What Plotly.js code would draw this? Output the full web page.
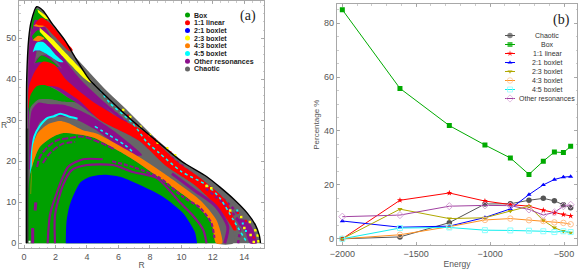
<!DOCTYPE html>
<html><head><meta charset="utf-8">
<script src="https://cdn.plot.ly/plotly-3.0.1.min.js"></script>
<style>html,body{margin:0;padding:0;background:#fff}</style></head>
<body><div id="chart" style="width:579px;height:270px"></div>
<script>
// ---- panel (a): orbit-class regions (R, z outlines) ----
const GREY='#666666',PURPLE='#8b0f8b',GREEN='#00a000',RED='#ff0000',BLUE='#0000ff',YELLOW='#ffff00',ORANGE='#ff8000',CYAN='#00ffff';

const envelope=[[0.15,0],[0.15,25],[0.17,40],[0.3,50],[0.45,54],[0.8,57.7],[1.2,56.8],[1.8,53.5],[2.6,49.5],[3.3,45],[4.15,40],[5.5,34.8],[6.85,30],[8.1,26],[10,20],[11.6,16.3],[12.45,13.7],[13.4,10.5],[14.2,7.3],[14.7,4.5],[14.95,2],[15.03,0]];
const topPurple=[[0.25,27],[0.3,46],[0.5,53],[0.8,55],[1.3,53],[2,48.5],[3,42.5],[4.2,37],[5.5,32],[7,27],[8,24],[7.5,22],[6,27],[4.5,31],[3,35],[1.8,38],[1,38],[0.5,33]];
const outerPurple=[[13.4,6],[14.2,5.5],[14.6,3],[14.8,0],[14.35,0],[14.1,2.5]];
const topGreen=[[0.45,53],[0.8,57.2],[1.15,56.2],[1.5,54.5],[1.1,54],[0.7,54.6],[0.55,52]];
const topGreen2=[[0.5,50.5],[0.9,52],[1.3,50.5],[1.6,49.5],[1,50],[0.6,49.6]];
const topGreen3=[[0.7,44],[1.1,45.8],[1.6,45],[2.2,43],[1.6,43.8],[1,44.2]];
const topRed=[[0.7,53.6],[1.1,55],[1.65,53.7],[2.4,50.2],[3.1,47.1],[2.9,46.8],[1.9,50.6],[1.3,53],[0.9,53.2]];
const topOrange=[[0.55,49.5],[0.9,50.6],[1.3,50],[0.9,49.2]];
const topOrange2=[[0.6,53],[1,54],[1.35,53],[1,52.7]];
const topCyan=[[0.55,46.6],[0.8,48.9],[1.2,49.1],[1.6,47.8],[2,46],[2.5,44.2],[2.2,44.3],[1.5,46],[1,47],[0.7,47]];
const yellowThick=[[1,52.6],[1.85,49.7],[2.5,47],[3.25,44],[4,41],[4.3,39.4],[4.2,39.2],[3.9,40],[3.2,42.6],[2.45,45.6],[1.8,48.3],[1,51.6]];
const yellowTop=[[0.85,57],[1.35,55.6],[1.6,54.6],[1.35,54.8],[0.9,56.3]];
const redBand=[[0.27,33],[0.3,38],[0.7,42],[1.2,44.3],[1.9,43.6],[2.7,39.8],[4.2,35],[6.3,30],[7.8,26.9],[9.7,20],[11.2,15.9],[12.9,10],[13.5,3.2],[13.3,3.2],[12.25,9],[10.8,14.3],[8.96,19],[7.3,25],[4.83,30],[3.45,35],[2.08,38.2],[1,38],[0.3,33]];
const greenThin=[[0.3,33],[0.4,36],[0.8,38.3],[1.3,38.6],[2,37.5],[2.8,35.5],[3.3,34.3],[2.5,34.5],[1.5,35.2],[0.9,35],[0.5,32.5],[0.35,29]];
const purpleArch=[[0.3,18],[0.35,28],[0.5,32.5],[0.9,34.3],[1.5,34],[2.5,33.8],[3.5,32.5],[4.5,30.5],[5.5,28],[6.5,25],[7.5,21.5],[6.8,21.5],[5.5,25],[4.5,27.8],[3.3,30.2],[2.6,30.8],[1.6,30.8],[1,29.5],[0.6,25],[0.4,18]];
const midGrey=[[0.3,24],[0.4,33],[0.9,35],[1.5,35.2],[2.5,34.5],[3.3,34.3],[4.8,30],[7.3,25],[8.96,19],[10.8,14.3],[12.25,9],[13.3,3.2],[13.3,0],[12.2,0],[10,10],[7,20],[4,28],[2,31],[0.7,26]];
const lowerCyan=[[0.45,17],[0.5,22],[0.65,26],[1,28.6],[1.5,30.6],[1.9,31],[2.3,31.6],[2.8,31],[3.4,30.4]];
const lowerCyan2=[[4.5,28.5],[5.4,26.4],[6.4,24],[7,22]];
const lowerCyan3=[[8.6,17.5],[9.7,14],[10.5,12.2]];
const upperCyanLine=[[4.83,37.4],[5.46,34.2],[6.9,29.3],[7.8,24.7],[8.6,22],[10,17.5],[11.6,14.2],[12.45,11],[13.3,5.7],[14.2,0]];
const orangeArch=[[0.45,12],[0.5,20],[0.57,24],[0.9,27],[1.5,29],[2.3,29.8],[3,29],[3.75,27.6],[4.6,26.8],[6.9,22],[9.1,16.5],[11.2,10.5],[12.25,5.5],[12.6,0],[12.2,0],[11.9,5],[10.9,9.5],[8.9,15.2],[6.7,21],[4.4,25.8],[3.4,26.6],[2.5,26.9],[1.85,26],[1,23.5],[0.5,18.4],[0.42,12]];
const greenCore=[[0.27,0],[0.27,13],[0.45,18],[1,23.5],[1.85,26],[2.5,26.9],[3.4,26.6],[4.4,25.8],[6.7,21],[8.9,15.2],[10.9,9.5],[11.9,5],[12.2,0]];
const blueCore=[[2.65,0],[2.7,5.3],[2.9,9.3],[3.55,14.7],[4.2,16.2],[5.15,16.7],[6.1,16.2],[7.37,14.2],[8.85,11.3],[10.1,7.4],[10.85,2.8],[11,0]];
const stripeS1=[[1.5,0],[1.65,6.9],[2.1,12.5],[2.8,18.6],[3.75,20.5],[5,20.5]];
const stripeS2=[[1.97,0],[1.97,6.9],[2.48,14.2],[3.05,17.9],[4,19.1],[5.65,19.1],[6.9,17.4],[8.45,15.9],[9.9,10],[10.7,6.9],[11.4,3.2],[11.6,0]];
const stripeS1b=[[5.6,20],[7,18.5],[8.6,16],[10.1,11.3],[11.2,8.6],[11.9,5],[12.1,1.3]];
const stripeS3=[[0.83,18.6],[1,21],[1.5,23.5],[2.15,25.2],[2.9,25.7],[3.75,26],[5,24.3],[5.7,23]];
const stripeS4=[[1.2,19.6],[1.65,22],[2.4,24.2],[3.25,24.7]];
const stripeLeft=[[0.55,0],[0.55,3.7]];
const stripeLeft2=[[0.7,8],[0.75,10]];
const rightPurple=[[12.75,0],[12.95,4],[12.2,9],[10.8,13],[9.4,17]];
const rightPurple2=[[13.6,0],[13.7,5],[12.6,10],[11.5,13.5]];
const upperPurpleDiag=[[1.2,49],[1.9,47.5],[2.7,43.5],[3.6,39.4],[4.8,35],[6,31],[7.5,25.5]];
const outerDash=[[5.5,32.8],[7,28],[8.7,23],[10.5,17.5],[12,13],[13,9.6],[13.9,6]];
const yellowDots=[[6.3,32.5],[6.75,30.8],[7.4,28.4],[8,26.4],[8.5,24.5],[9.1,23.2],[9.6,21.5],[11.6,14],[11.9,13.4],[13.1,8],[13.8,6.4],[14.35,5.2],[14,3.7],[14.7,3.2],[14.85,1.9],[14.9,0.5],[14.4,2],[14.6,0.3]];
const redDots=[[6.6,31.2],[7.1,29],[8.3,25.4],[9.3,22.2],[10.9,16],[12,12.6],[13.6,7.4],[14.1,5.5],[14.6,1.4]];
const cyanDots=[[14.1,3],[13.9,4.8],[13.55,8]];
const whiteSpeck=[[0.35,0.4]];

const regionNames=['Box','1:1 linear','2:1 boxlet','2:3 boxlet','4:3 boxlet','4:5 boxlet','Other resonances','Chaotic'];
const regionColors=[GREEN,RED,BLUE,YELLOW,ORANGE,CYAN,PURPLE,GREY];

// ---- panel (b) series ----
const energy=[-2000,-1610,-1276,-1035,-863,-737,-640,-565,-504,-455];
const chaotic=[0,0.7,6,12.9,13,14.3,15,14.1,12.6,11.5];
const box=[85,55.8,42,34.8,30,23.9,28.8,32.2,32,34.3];
const linear11=[0,14.3,17,14,12.7,12.1,10.6,9.6,9,8.5];
const boxlet21=[6.6,4.3,4.7,7.9,11.1,16.4,20,22,22.9,23.1];
const boxlet23=[0,11,7.5,7.8,10.3,12.1,6.8,4.1,2.8,2.2];
const boxlet43=[0,1.5,4.5,7,7.5,6.9,6.6,6.1,5.9,5.4];
const boxlet45=[0,4,4.2,3.2,3.1,3,2.8,2.5,2.8,2.5];
const otherRes=[8.2,8.8,12.1,12.4,12.3,10.9,8.8,9.8,12.1,12.6];

const seriesNames=['Chaotic','Box','1:1 linear','2:1 boxlet','2:3 boxlet','4:3 boxlet','4:5 boxlet','Other resonances'];
const seriesValues=[chaotic,box,linear11,boxlet21,boxlet23,boxlet43,boxlet45,otherRes];
const seriesStyles=[
 {c:'#555555',mc:'#555555',lw:1,s:'circle',m:5.5},
 {c:'#00aa00',mc:'#00aa00',lw:1,s:'square',m:5},
 {c:'#ff0000',mc:'#ff0000',lw:1,s:'star',m:4.5},
 {c:'#0000ff',mc:'#0000ff',lw:1,s:'triangle-up',m:4.5},
 {c:'#b0a800',mc:'#b0a800',lw:1,s:'triangle-down',m:4.5},
 {c:'#ff9020',mc:'#ffbf8c',lw:1,s:'circle-open',m:5.5,light:1},
 {c:'#10eeee',mc:'#88ffff',lw:1,s:'square-open',m:5,light:1},
 {c:'#a040a0',mc:'#d8a8d8',lw:1,s:'diamond-open',m:5.5,light:1}];

const W=579,H=270;
const traces=[];
function poly(pts,c){traces.push({type:'scatter',mode:'lines',x:pts.map(p=>p[0]),y:pts.map(p=>p[1]),fill:'toself',fillcolor:c,line:{width:0,color:c,shape:'spline',smoothing:0.7},hoverinfo:'skip',xaxis:'x',yaxis:'y',showlegend:false});}
function stripe(pts,c,w,dash){traces.push({type:'scatter',mode:'lines',x:pts.map(p=>p[0]),y:pts.map(p=>p[1]),line:{width:w,color:c,dash:dash||'solid',shape:'spline',smoothing:0.7},hoverinfo:'skip',xaxis:'x',yaxis:'y',showlegend:false});}
function dots(pts,c,s){traces.push({type:'scatter',mode:'markers',x:pts.map(p=>p[0]),y:pts.map(p=>p[1]),marker:{symbol:'square',size:s,color:c,line:{width:0}},hoverinfo:'skip',xaxis:'x',yaxis:'y',showlegend:false});}

poly(envelope,GREY);
poly(topPurple,PURPLE);
stripe([[3.2,45],[5,37.5],[6.5,32],[8.2,25.5],[10.2,19],[12,13.5],[13.4,9]],GREY,4);
stripe(upperPurpleDiag,PURPLE,3);
stripe(outerDash,PURPLE,2.5,'3px,3px');
poly(outerPurple,PURPLE);
poly([[0.45,39],[0.8,45],[1.3,46],[2,44.6],[2.4,42.6],[1.2,46.7],[0.8,46.9]],GREY);
poly(topGreen,GREEN);poly(topGreen2,GREEN);poly(topOrange2,ORANGE);poly(topOrange,ORANGE);
poly(topRed,RED);poly(topCyan,CYAN);poly(yellowThick,YELLOW);poly(yellowTop,YELLOW);
poly(topGreen3,GREEN);
poly(redBand,RED);
poly(greenThin,GREEN);
poly(midGrey,GREY);
poly(purpleArch,PURPLE);
stripe(rightPurple,PURPLE,3);
stripe(rightPurple2,PURPLE,2.5,'3px,3px');
stripe(lowerCyan,CYAN,2);
stripe(lowerCyan2,CYAN,1.5,'3px,3px');
stripe(lowerCyan3,CYAN,1.5,'3px,3px');
stripe(upperCyanLine,CYAN,1.5,'3px,3px');
poly(greenCore,GREEN);
poly(blueCore,BLUE);
poly(orangeArch,ORANGE);
stripe(stripeS1,PURPLE,2.2);
stripe(stripeS2,PURPLE,2.2);
stripe(stripeS1b,PURPLE,2.2,'4px,2px');
stripe(stripeS3,PURPLE,2,'6px,2px');
stripe(stripeS4,PURPLE,2,'6px,2px');
stripe(stripeLeft,PURPLE,3);
stripe(stripeLeft2,PURPLE,3);
dots(yellowDots,YELLOW,2.5);
dots(redDots,RED,2);
dots(cyanDots,CYAN,2);
stripe([[0.2,0],[0.2,28]],'#333333',2.5);
dots(whiteSpeck,'#ffffff',2);
stripe(envelope,'#000000',1.4);

// panel (b) series
seriesNames.forEach((n,i)=>{const st=seriesStyles[i];
 traces.push({type:'scatter',mode:'lines+markers',name:n,x:energy,y:seriesValues[i],xaxis:'x2',yaxis:'y2',showlegend:false,
  line:{color:st.c,width:st.lw},marker:{symbol:st.s,size:st.m,color:st.mc,line:{color:st.mc,width:st.light?1:0}}});});

// legend keys live on a full-page helper axis, labels are annotations
const annotations=[];
const legA={x:187.5,y:15,dy:7.7,tx:194};
regionNames.forEach((n,i)=>{
 traces.push({type:'scatter',mode:'markers',x:[legA.x],y:[legA.y+i*legA.dy],xaxis:'x3',yaxis:'y3',showlegend:false,hoverinfo:'skip',marker:{symbol:'circle',size:5,color:regionColors[i]}});
 annotations.push({xref:'paper',yref:'paper',x:legA.tx/W,y:1-(legA.y+i*legA.dy)/H,text:n,showarrow:false,xanchor:'left',yanchor:'middle',font:{family:'Liberation Sans',size:7,color:'#222',weight:'bold'},borderpad:0,borderwidth:0});
});
const legB={x0:505,x1:515,y:35.5,dy:9,tx:547};
seriesNames.forEach((n,i)=>{const st=seriesStyles[i],yy=legB.y+i*legB.dy;
 traces.push({type:'scatter',mode:'lines+markers',x:[legB.x0,(legB.x0+legB.x1)/2,legB.x1],y:[yy,yy,yy],xaxis:'x3',yaxis:'y3',showlegend:false,hoverinfo:'skip',line:{color:st.c,width:st.lw},marker:{symbol:st.s,size:[0,st.m,0],color:st.mc,line:{color:st.mc,width:st.light?1:0}}});
 annotations.push({xref:'paper',yref:'paper',x:legB.tx/W,y:1-yy/H,text:n,showarrow:false,xanchor:'center',yanchor:'middle',font:{family:'Liberation Sans',size:7,color:'#333'},borderpad:0});
});
annotations.push({xref:'paper',yref:'paper',x:248/W,y:1-16/H,text:'(a)',showarrow:false,xanchor:'center',yanchor:'middle',font:{family:'Liberation Serif',size:14,color:'#222'}});
annotations.push({xref:'paper',yref:'paper',x:561.5/W,y:1-20/H,text:'(b)',showarrow:false,xanchor:'center',yanchor:'middle',font:{family:'Liberation Serif',size:14,color:'#222'}});
annotations.push({xref:'paper',yref:'paper',x:4/W,y:1-125/H,text:'R',showarrow:false,xanchor:'center',yanchor:'middle',font:{family:'Liberation Sans',size:8.5,color:'#555'}});

const frame={showgrid:false,zeroline:false,showline:true,linecolor:'#a8a8a8',linewidth:1.2,mirror:'ticks',ticks:'inside',ticklen:3,tickwidth:0.8,tickcolor:'#999',tickfont:{family:'Liberation Sans',size:9,color:'#555'},
 minor:{ticks:'inside',ticklen:1.5,tickwidth:0.6,tickcolor:'#aaa'}};
const titleFont={family:'Liberation Sans',size:8.5,color:'#555'};
const layout={width:W,height:H,margin:{l:0,r:0,t:0,b:0,pad:0},paper_bgcolor:'#fff',plot_bgcolor:'rgba(0,0,0,0)',showlegend:false,annotations,hovermode:false,
 xaxis:Object.assign({},frame,{domain:[19.3/W,264/W],range:[-0.3,15.25],tickmode:'array',tickvals:[0,2,4,6,8,10,12,14],minor:Object.assign({},frame.minor,{dtick:0.5}),anchor:'y',title:{text:'R',font:titleFont,standoff:3}}),
 yaxis:Object.assign({},frame,{domain:[1-248/H,1-1/H],range:[-1.15,59.1],tickmode:'array',tickvals:[0,10,20,30,40,50],minor:Object.assign({},frame.minor,{dtick:2}),anchor:'x'}),
 xaxis2:Object.assign({},frame,{domain:[337/W,577/W],range:[-2036,-412],tickmode:'array',tickvals:[-2000,-1500,-1000,-500],minor:Object.assign({},frame.minor,{dtick:100}),anchor:'y2',title:{text:'Energy',font:titleFont,standoff:3}}),
 yaxis2:Object.assign({},frame,{domain:[1-245/H,1-4.3/H],range:[-2.3,87],tickmode:'array',tickvals:[0,20,40,60,80],minor:Object.assign({},frame.minor,{dtick:5}),anchor:'x2',title:{text:'Percentage %',font:Object.assign({},titleFont,{size:8}),standoff:3}}),
 xaxis3:{domain:[0,1],range:[0,W],visible:false,anchor:'y3',fixedrange:true},
 yaxis3:{domain:[0,1],range:[H,0],visible:false,anchor:'x3',fixedrange:true}
};
Plotly.newPlot('chart',traces,layout,{displayModeBar:false,staticPlot:true});
</script></body></html>
